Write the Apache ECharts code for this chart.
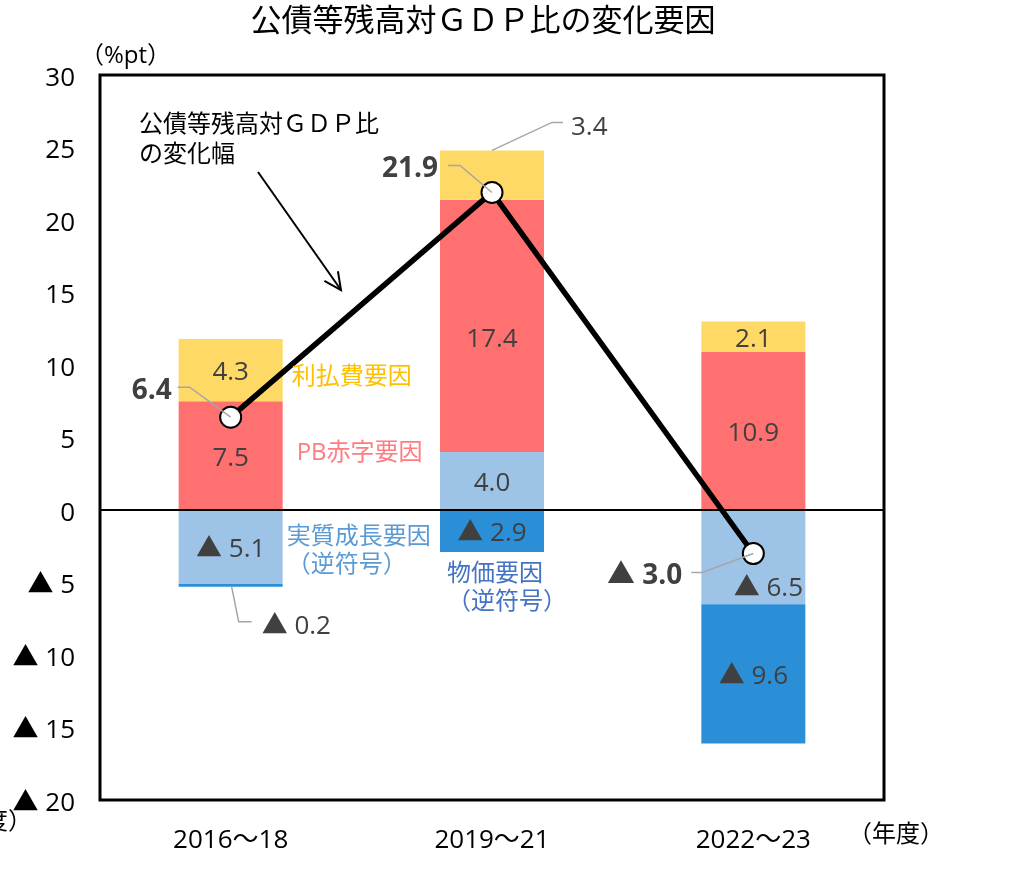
<!DOCTYPE html>
<html>
<head>
<meta charset="utf-8">
<script src="https://cdn.jsdelivr.net/npm/echarts@6/dist/echarts.min.js"></script>
<style>
html,body{margin:0;padding:0;background:#fff;}
#main{width:1009px;height:873px;}
</style>
</head>
<body>
<div id="main"></div>
<script>
// ---- data ----
const categories = ['2016～18', '2019～21', '2022～23'];
const realGrowth = [-5.1, 4.0, -6.5];   // 実質成長要因（逆符号）
const priceFactor = [-0.2, -2.9, -9.6]; // 物価要因（逆符号）
const pbDeficit = [7.5, 17.4, 10.9];    // PB赤字要因
const interestCost = [4.3, 3.4, 2.1];   // 利払費要因
const debtChange = [6.4, 21.9, -3.0];   // 公債等残高対ＧＤＰ比の変化幅
const yMin = -20, yMax = 30, yStep = 5;

const FONT = "'Open Sans', 'Noto Sans CJK JP', sans-serif";
const LABEL_COLOR = '#404040';
const fmt = v => v < 0 ? '▲ ' + Math.abs(v).toFixed(1) : v.toFixed(1);
const axisFmt = v => '{t|' + (v < 0 ? '▲ ' + Math.abs(v) : String(v)) + '}';

const chart = echarts.init(document.getElementById('main'), null, {renderer: 'canvas'});

const baseLabel = {show: true, position: 'inside', color: LABEL_COLOR, fontSize: 26, fontFamily: FONT,
  offset: [0, 3], formatter: p => fmt(p.value)};

function items(arr, overrides) {
  return arr.map((v, i) => overrides && overrides[i] ? Object.assign({value: v}, overrides[i]) : v);
}

const option = {
  animation: false,
  backgroundColor: '#fff',
  grid: {left: 100, right: 125, top: 75, bottom: 73, show: true, borderColor: '#000', borderWidth: 3, backgroundColor: 'transparent'},
  xAxis: {
    type: 'category', data: categories,
    axisLine: {show: false}, axisTick: {show: false},
    axisLabel: {fontSize: 26, color: '#000', fontFamily: FONT, margin: 28}
  },
  yAxis: {
    type: 'value', min: yMin, max: yMax, interval: yStep,
    axisLine: {show: false}, axisTick: {show: false}, splitLine: {show: false},
    axisLabel: {fontSize: 26, color: '#000', fontFamily: FONT, margin: 25, formatter: axisFmt,
      rich: {t: {fontSize: 26, color: '#000', fontFamily: FONT, padding: [7, 0, 0, 0]}}}
  },
  series: [
    {name: '実質成長要因', type: 'bar', stack: 'f', barWidth: 104,
      itemStyle: {color: '#9DC3E6'}, label: baseLabel,
      data: items(realGrowth, {2: {label: {position: 'insideBottom', offset: [15, 2], distance: 5}}})},
    {name: '物価要因', type: 'bar', stack: 'f', barWidth: 104,
      itemStyle: {color: '#2B8FD8'}, label: baseLabel,
      data: items(priceFactor, {0: {label: {show: false}}})},
    {name: 'PB赤字要因', type: 'bar', stack: 'f', barWidth: 104,
      itemStyle: {color: '#FF7171'}, label: baseLabel,
      data: items(pbDeficit, {1: {label: {offset: [0, 14]}}})},
    {name: '利払費要因', type: 'bar', stack: 'f', barWidth: 104,
      itemStyle: {color: '#FFD966'}, label: baseLabel,
      data: items(interestCost, {1: {label: {show: false}}}),
      markLine: {silent: true, symbol: 'none', label: {show: false},
        lineStyle: {color: '#000', width: 2, type: 'solid'}, data: [{yAxis: 0}]}},
    {name: '公債等残高対ＧＤＰ比の変化幅', type: 'line', z: 5,
      data: debtChange, symbol: 'circle', symbolSize: 21,
      lineStyle: {color: '#000', width: 5.5},
      itemStyle: {color: '#fff', borderColor: '#000', borderWidth: 2}}
  ]
};
chart.setOption(option);

// ---- annotations positioned through the chart's own scales ----
const px = (i, v) => chart.convertToPixel({gridIndex: 0}, [i, v]);
const G = [];
const LEAD = {stroke: '#A6A6A6', lineWidth: 1.5, fill: null};
function txt(x, y, text, style) {
  G.push({type: 'text', z: 100, x: x, y: y,
    style: Object.assign({text: text, font: '26px ' + FONT, fill: LABEL_COLOR, textVerticalAlign: 'middle'}, style)});
}
function poly(pts, style) {
  G.push({type: 'polyline', z: 99, shape: {points: pts}, style: Object.assign({}, LEAD, style)});
}

// line-point labels (offsets from the marker)
const lineLabelLayout = [
  {tx: -59, ty: -26, lead: [[-53, -30], [-41, -30]]},
  {tx: -54, ty: -23, lead: [[-44, -27], [-32, -27]]},
  {tx: -71, ty: 23, lead: [[-62, 19], [-51, 19]]}
];
debtChange.forEach((v, i) => {
  const m = px(i, v), L = lineLabelLayout[i];
  poly([[m[0] + L.lead[0][0], m[1] + L.lead[0][1]], [m[0] + L.lead[1][0], m[1] + L.lead[1][1]], [m[0], m[1]]]);
  txt(m[0] + L.tx, m[1] + L.ty, fmt(v), {font: 'bold 28px ' + FONT, textAlign: 'right'});
});

// 3.4 (利払費, 2019～21) outside label
(function () {
  const i = 1;
  const top = [realGrowth, priceFactor, pbDeficit, interestCost].reduce((s, a) => s + (a[i] > 0 ? a[i] : 0), 0);
  const p = px(i, top);
  poly([[p[0], p[1]], [p[0] + 60, p[1] - 28], [p[0] + 71, p[1] - 28]]);
  txt(p[0] + 79, p[1] - 23, fmt(interestCost[i]), {textAlign: 'left'});
})();
// ▲0.2 (物価, 2016～18) outside label
(function () {
  const i = 0;
  const bot = [realGrowth, priceFactor].reduce((s, a) => s + (a[i] < 0 ? a[i] : 0), 0);
  const p = px(i, bot);
  poly([[p[0] + 1, p[1]], [p[0] + 8, p[1] + 35], [p[0] + 21, p[1] + 35]]);
  txt(p[0] + 31, p[1] + 40, fmt(priceFactor[i]), {textAlign: 'left'});
})();

// series name annotations
const CJK = "24px 'Noto Sans CJK JP', 'Open Sans', sans-serif";
(function () {
  let p = px(0, 9.3); txt(p[0] + 61, p[1], '利払費要因', {fill: '#FFC000', font: CJK});
  p = px(0, 4.0); txt(p[0] + 66, p[1] + 1, 'PB赤字要因', {fill: '#FF7C80', font: '24px ' + FONT});
  p = px(0, -2.65); txt(p[0] + 56, p[1], '実質成長要因\n（逆符号）', {fill: '#5B9BD5', font: CJK, lineHeight: 28});
  p = px(1, -5.2); txt(p[0] - 45, p[1], '物価要因\n（逆符号）', {fill: '#4472C4', font: CJK, lineHeight: 28});
})();

// title, units, callout arrow
txt(483, 19, '公債等残高対ＧＤＰ比の変化要因', {fill: '#000', font: "31px 'Noto Sans CJK JP', sans-serif", textAlign: 'center'});
txt(80, 56, '（%pt）', {fill: '#000', font: '24px ' + FONT, textAlign: 'left'});
txt(848, 833, '（年度）', {fill: '#000', font: CJK, textAlign: 'left'});
txt(32, 820, '（年度）', {fill: '#000', font: CJK, textAlign: 'right'});
txt(139, 138, '公債等残高対ＧＤＰ比\nの変化幅', {fill: '#000', font: CJK, textAlign: 'left', lineHeight: 30});
(function () {
  const a = [258, 172], b = [341, 290];
  const dx = b[0] - a[0], dy = b[1] - a[1], len = Math.hypot(dx, dy);
  const ux = dx / len, uy = dy / len, hl = 19, ang = 0.45;
  const w1 = [b[0] - hl * (ux * Math.cos(ang) - uy * Math.sin(ang)), b[1] - hl * (uy * Math.cos(ang) + ux * Math.sin(ang))];
  const w2 = [b[0] - hl * (ux * Math.cos(-ang) - uy * Math.sin(-ang)), b[1] - hl * (uy * Math.cos(-ang) + ux * Math.sin(-ang))];
  poly([a, b], {stroke: '#000', lineWidth: 2});
  poly([w1, b, w2], {stroke: '#000', lineWidth: 2});
})();

chart.setOption({graphic: {elements: G}});
</script>
</body>
</html>
